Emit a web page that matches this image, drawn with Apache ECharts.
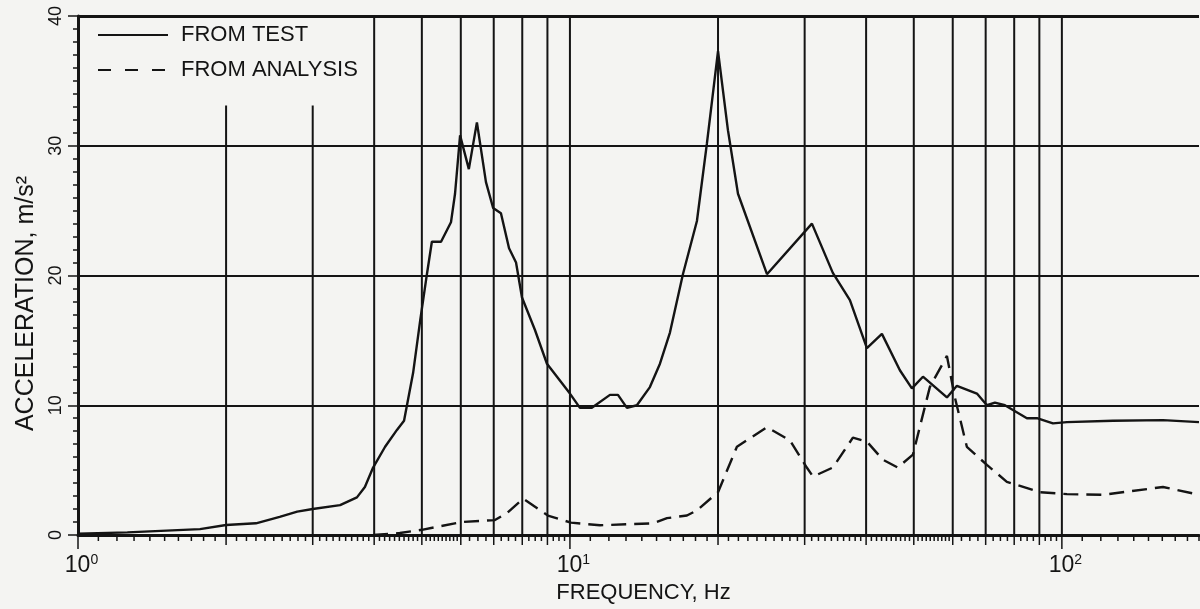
<!DOCTYPE html>
<html>
<head>
<meta charset="utf-8">
<script src="https://cdn.jsdelivr.net/npm/echarts@6/dist/echarts.min.js"></script>
<style>
  html, body { margin: 0; padding: 0; background: #f4f4f2; }
  #chart { width: 1200px; height: 609px; }
</style>
</head>
<body>
<div id="chart"></div>
<script>
// measured test curve (Hz, m/s^2)
const testFreq = [1.0, 1.26, 1.77, 2.0, 2.3, 2.57, 2.79, 3.0, 3.41, 3.69, 3.83, 3.98, 4.21, 4.45, 4.6, 4.8,
    4.96, 5.12, 5.24, 5.47, 5.73, 5.84, 5.98, 6.23, 6.47, 6.75, 6.98, 7.24, 7.52, 7.77, 7.99, 8.49, 8.98,
    10.0, 10.48, 11.08, 12.06, 12.52, 13.06, 13.68, 14.54, 15.24, 15.97, 16.97, 18.12, 18.99, 20.0, 20.95,
    21.96, 25.15, 31.04, 34.23, 37.08, 40.15, 43.07, 46.85, 49.56, 52.19, 58.39, 61.18, 67.19, 70.41, 73.1,
    76.6, 84.9, 89.0, 95.9, 102.4, 127, 160.5, 190]
const testAccel = [0.1, 0.2, 0.45, 0.77, 0.9, 1.4, 1.8, 2.0, 2.3, 2.9, 3.7, 5.2, 6.8, 8.1, 8.8, 12.5,
    16.5, 20.1, 22.6, 22.6, 24.1, 26.3, 30.8, 28.2, 31.8, 27.2, 25.2, 24.8, 22.1, 21.0, 18.3, 15.8, 13.2,
    10.9, 9.8, 9.8, 10.8, 10.8, 9.8, 10.0, 11.4, 13.2, 15.6, 20.1, 24.2, 30.2, 37.3, 31.2,
    26.3, 20.1, 24.0, 20.2, 18.1, 14.4, 15.5, 12.7, 11.3, 12.2, 10.6, 11.5, 10.9, 10.0, 10.2,
    10.0, 9.0, 9.0, 8.6, 8.7, 8.8, 8.85, 8.7]

// analysis curve
const analysisFreq = [3.98, 4.51, 5.0, 6.03, 7.04, 7.45, 8.03, 9.02, 10.05, 11.51, 14.75, 15.75, 17.29, 18.12,
    20.0, 21.85, 25.15, 28.0, 30.3, 31.2, 34.23, 37.6, 40.15, 43.27, 46.4, 49.8, 53.9, 58.39, 60.6, 64.1,
    70.4, 77.3, 90.2, 102.4, 121.2, 160.5, 190]
const analysisAccel = [0.0, 0.15, 0.4, 1.0, 1.15, 1.7, 2.8, 1.5, 0.95, 0.75, 0.9, 1.3, 1.5, 1.9,
    3.3, 6.8, 8.3, 7.3, 5.2, 4.5, 5.2, 7.5, 7.2, 5.8, 5.2, 6.2, 11.4, 13.8, 10.6, 6.8,
    5.4, 4.1, 3.3, 3.15, 3.1, 3.7, 3.1]

// vertical rules: short ones stop under the legend
const ruleShortFreq = [2, 3]
const ruleShortTop = 33.1
const ruleFreq = [4, 5, 6, 7, 8, 9, 10, 20, 30, 40, 50, 60, 70, 80, 90, 100]
const decades = [1, 10, 100]
// [from, to, step] of the small ticks along the frequency axis
const minorTickRanges = [[1, 6, 0.1], [6, 10, 0.25], [10, 60, 1], [60, 100, 2.5], [100, 200, 10]]

const INK = "#141414"
const FONT = '"Liberation Sans", Arial, sans-serif'

function zip(xs, ys) {
    return xs.map((x, i) => [x, ys[i]])
}

function buildTicks() {
    const out = []
    minorTickRanges.forEach(([from, to, step]) => {
        const n = Math.round((to - from) / step)
        for (let i = 0; i < n; i++) {
            out.push([Math.round((from + i * step) * 1000) / 1000, 0])
        }
    })
    return out
}

const chart = echarts.init(document.getElementById("chart"))

const option = {
    animation: false,
    backgroundColor: "#f4f4f2",
    textStyle: { fontFamily: FONT },
    grid: { left: 78, top: 16, width: 1121, height: 519, outerBoundsMode: "none" },
    legend: {
        orient: "vertical",
        left: 97,
        top: 24,
        padding: 0,
        itemWidth: 70,
        itemHeight: 14,
        itemGap: 13,
        itemStyle: { opacity: 0 },
        textStyle: { color: INK, fontSize: 22, lineHeight: 22, fontFamily: FONT, padding: [0, 0, 0, 8] },
        data: [
            { name: "FROM TEST" },
            { name: "FROM ANALYSIS", lineStyle: { type: [13, 14] } }
        ]
    },
    xAxis: {
        type: "log",
        logBase: 10,
        min: 1,
        max: 190,
        axisLine: { lineStyle: { color: INK, width: 3 } },
        axisTick: { show: false },
        splitLine: { show: false },
        axisLabel: {
            margin: 18,
            showMaxLabel: false,
            color: INK,
            formatter: v => {
                const e = Math.log10(v)
                if (Math.abs(e - Math.round(e)) > 1e-6) return ""
                return "{b|10}{s|" + Math.round(e) + "}"
            },
            rich: {
                b: { fontSize: 23, lineHeight: 26, color: INK, fontFamily: FONT, padding: [0, 0, 0, 7] },
                s: { fontSize: 14, lineHeight: 26, color: INK, fontFamily: FONT, verticalAlign: "top" }
            }
        },
        name: "FREQUENCY, Hz",
        nameLocation: "middle",
        nameGap: 46,
        nameTextStyle: { color: INK, fontSize: 22, fontFamily: FONT, padding: [0, 0, 0, 10] }
    },
    yAxis: {
        type: "value",
        min: 0,
        max: 40,
        interval: 10,
        axisLine: { show: true, lineStyle: { color: INK, width: 3 } },
        axisTick: { show: true, length: 10, lineStyle: { color: INK, width: 1.5 } },
        minorTick: { show: true, splitNumber: 10, length: 5, lineStyle: { color: INK, width: 1.5 } },
        splitLine: { show: true, lineStyle: { color: INK, width: 2 } },
        axisLabel: { rotate: 90, margin: 13, color: INK, fontSize: 18, fontFamily: FONT },
        name: "ACCELERATION, m/s²",
        nameLocation: "middle",
        nameGap: 29,
        nameTextStyle: { color: INK, fontSize: 25, fontFamily: FONT, padding: [0, 56, 0, 0] }
    },
    series: [
        {
            name: "rules",
            type: "custom",
            silent: true,
            z: 1,
            data: ruleShortFreq.map(f => [f, ruleShortTop]).concat(ruleFreq.map(f => [f, 40])),
            encode: { x: 0, y: 1 },
            renderItem: (params, api) => {
                const p0 = api.coord([api.value(0), 0])
                const p1 = api.coord([api.value(0), api.value(1)])
                return {
                    type: "line",
                    shape: { x1: p0[0], y1: p0[1], x2: p1[0], y2: p1[1] },
                    style: { stroke: INK, lineWidth: 2 }
                }
            }
        },
        {
            name: "ticks",
            type: "custom",
            silent: true,
            z: 1,
            data: buildTicks(),
            encode: { x: 0, y: 1 },
            renderItem: (params, api) => {
                const f = api.value(0)
                const p = api.coord([f, 0])
                let len = 6
                if (decades.includes(f)) len = 14
                else if (ruleFreq.includes(f) || ruleShortFreq.includes(f)) len = 10
                return {
                    type: "line",
                    shape: { x1: p[0], y1: p[1], x2: p[0], y2: p[1] + len },
                    style: { stroke: INK, lineWidth: 1.5 }
                }
            }
        },
        {
            name: "FROM TEST",
            type: "line",
            z: 3,
            symbol: "none",
            data: zip(testFreq, testAccel),
            lineStyle: { color: INK, width: 2.4 },
            itemStyle: { color: INK },
            markLine: {
                silent: true,
                symbol: "none",
                label: { show: false },
                lineStyle: { color: INK, width: 3, type: "solid" },
                data: [{ yAxis: 40 }]
            }
        },
        {
            name: "FROM ANALYSIS",
            type: "line",
            z: 3,
            symbol: "none",
            data: zip(analysisFreq, analysisAccel),
            lineStyle: { color: INK, width: 2.4, type: [15, 8] },
            itemStyle: { color: INK }
        }
    ]
}

chart.setOption(option)
</script>
</body>
</html>
